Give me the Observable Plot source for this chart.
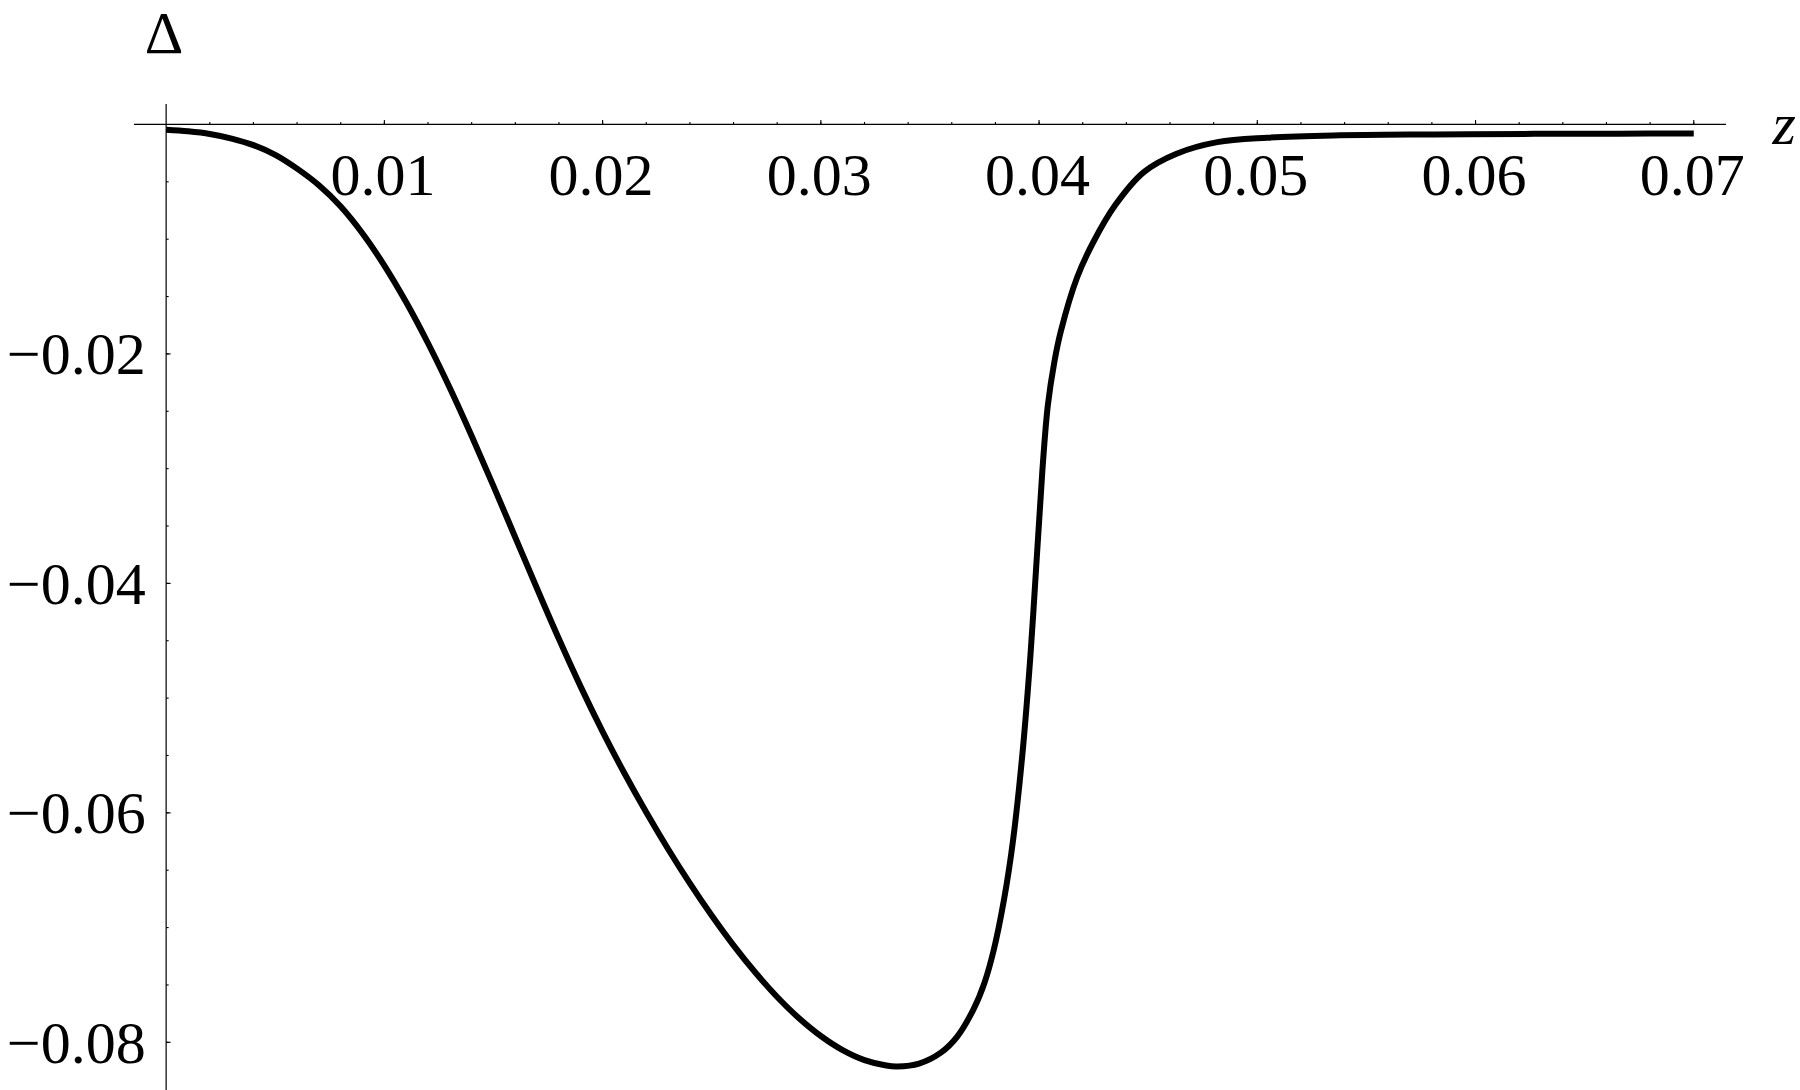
<!DOCTYPE html>
<html>
<head>
<meta charset="utf-8">
<script src="https://cdn.jsdelivr.net/npm/d3@7"></script>
<script src="https://cdn.jsdelivr.net/npm/@observablehq/plot@0.6"></script>
<style>
  html, body { margin: 0; padding: 0; background: #fff; }
  #chart { width: 1800px; height: 1090px; overflow: hidden; }
</style>
</head>
<body>
<div id="chart"></div>
<script>
// ---- data ----
const zValues = [
  0, 0.001, 0.002, 0.003, 0.004, 0.005, 0.006, 0.007, 0.008, 0.009,
  0.010, 0.011, 0.012, 0.013, 0.014, 0.015, 0.016, 0.017, 0.018, 0.019,
  0.020, 0.021, 0.022, 0.023, 0.024, 0.025, 0.026, 0.027, 0.028, 0.029,
  0.030, 0.031, 0.032, 0.033, 0.0335, 0.0345, 0.0355, 0.03625, 0.0370, 0.0375,
  0.03793, 0.03839, 0.0388, 0.03925, 0.0396, 0.0399, 0.04015, 0.0404, 0.0407, 0.0410,
  0.04175, 0.0425, 0.0435, 0.0448, 0.0463, 0.04817, 0.05046, 0.0535, 0.0581, 0.0627,
  0.0666, 0.0700];
const deltaValues = [
  -0.00046, -0.00060, -0.00083, -0.00123, -0.00180, -0.00265, -0.00385, -0.00530, -0.00715, -0.00950,
  -0.01230, -0.01550, -0.01907, -0.02297, -0.02715, -0.03152, -0.03600, -0.04047, -0.04485, -0.04902,
  -0.05292, -0.05655, -0.05995, -0.06315, -0.06615, -0.06895, -0.07155, -0.07392, -0.07605, -0.07790,
  -0.07945, -0.08068, -0.08155, -0.08202, -0.08210, -0.08185, -0.08090, -0.07950, -0.07710, -0.07480,
  -0.07190, -0.06760, -0.06250, -0.05460, -0.04640, -0.03760, -0.03020, -0.02450, -0.02070, -0.01800,
  -0.01330, -0.01020, -0.00700, -0.00415, -0.00255, -0.00154, -0.00116, -0.00096, -0.00087, -0.00082,
  -0.00080, -0.00079];

const xTicks = [0.01, 0.02, 0.03, 0.04, 0.05, 0.06, 0.07];
const xTickLabels = ["0.01", "0.02", "0.03", "0.04", "0.05", "0.06", "0.07"];
const yTicks = [-0.02, -0.04, -0.06, -0.08];
const yTickLabels = ["\u22120.02", "\u22120.04", "\u22120.06", "\u22120.08"];
const xMinorTicks = d3.range(1, 36).map(i => +(i * 0.002).toFixed(3));
const yMinorTicks = d3.range(1, 17).map(i => +(-i * 0.005).toFixed(3));
const xLabel = "z";
const yLabel = "\u0394";

// ---- build ----
const curve = zValues.map((z, i) => ({z, d: deltaValues[i]}));
const tickUp = {draw(ctx, size) { const r = Math.sqrt(size / Math.PI); ctx.moveTo(0, 0); ctx.lineTo(0, -r); }};
const tickRight = {draw(ctx, size) { const r = Math.sqrt(size / Math.PI); ctx.moveTo(0, 0); ctx.lineTo(r, 0); }};
const font = "'Liberation Serif', 'Times New Roman', serif";

const chart = Plot.plot({
  width: 1800,
  height: 1090,
  marginTop: 104,
  marginBottom: 0,
  marginLeft: 134,
  marginRight: 74,
  x: {domain: [-0.00145, 0.0715], axis: null},
  y: {domain: [-0.0842, 0.00174], axis: null},
  style: {background: "white", fontFamily: font, overflow: "visible"},
  marks: [
    Plot.ruleY([0], {stroke: "black", strokeWidth: 1.2}),
    Plot.ruleX([0], {stroke: "black", strokeWidth: 1.2}),
    Plot.dot(xMinorTicks, {x: d => d, y: () => 0, symbol: tickUp, r: 2.5, fill: "none", stroke: "black", strokeWidth: 1.1}),
    Plot.dot(xTicks, {x: d => d, y: () => 0, symbol: tickUp, r: 4.5, fill: "none", stroke: "black", strokeWidth: 1.1}),
    Plot.dot(yMinorTicks, {y: d => d, x: () => 0, symbol: tickRight, r: 2.5, fill: "none", stroke: "black", strokeWidth: 1.1}),
    Plot.dot(yTicks, {y: d => d, x: () => 0, symbol: tickRight, r: 4.5, fill: "none", stroke: "black", strokeWidth: 1.1}),
    Plot.line(curve, {x: "z", y: "d", stroke: "black", strokeWidth: 6, curve: "catmull-rom", strokeLinecap: "butt", strokeLinejoin: "round"}),
    Plot.text(xTicks, {x: d => d, y: () => 0, text: (d, i) => xTickLabels[i], fontSize: 60, fontFamily: font, fill: "black", textAnchor: "middle", lineAnchor: "middle", dy: 51, dx: -1.5}),
    Plot.text(yTicks, {y: d => d, x: () => 0, text: (d, i) => yTickLabels[i], fontSize: 60, fontFamily: font, fill: "black", textAnchor: "end", lineAnchor: "middle", dx: -20.5, dy: 1}),
    Plot.text([xLabel], {y: () => 0, frameAnchor: "right", text: d => d, fontSize: 60, fontStyle: "italic", fontFamily: font, fill: "black", textAnchor: "start", lineAnchor: "middle", dx: 46}),
    Plot.text([yLabel], {x: () => 0, frameAnchor: "top", text: d => d, fontSize: 60, fontFamily: font, fill: "black", textAnchor: "middle", lineAnchor: "middle", dx: -2, dy: -71})
  ]
});
document.getElementById("chart").appendChild(chart);
</script>
</body>
</html>
